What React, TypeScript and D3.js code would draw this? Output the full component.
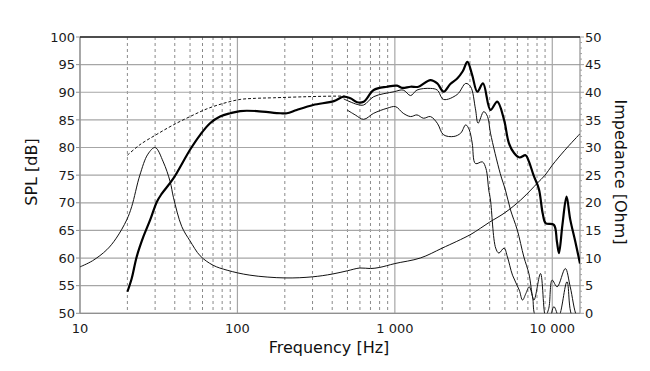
import React from 'react'
import * as d3 from 'd3'

// impedance curve (Ohm)
const impFreq = [10, 12, 14.8, 17, 19.8, 21.3, 24, 27, 30, 33.8, 37.4, 39.2, 44.3, 50, 58, 70, 86, 120, 200, 300, 400, 500, 600, 700, 800, 1000, 1450, 2000, 3000, 3500, 4000, 5000, 6300, 7300, 8000, 9000, 10000, 12000, 15000]
const impOhm = [8.4, 9.5, 11.5, 13.6, 16.9, 19.3, 25, 28.8, 30, 27.4, 23.8, 21, 15.7, 13.1, 10.4, 8.7, 7.8, 6.9, 6.4, 6.6, 7.1, 7.7, 8.2, 8.1, 8.3, 9.0, 10.0, 11.8, 14.2, 15.4, 16.5, 18.2, 20.5, 22.3, 23.5, 25, 26.8, 29.5, 32.5]

// on-axis SPL (bold)
const axisFreq = [20, 21.3, 22.9, 25.3, 27.9, 30.8, 33, 39.2, 50, 58, 67, 77.6, 90, 104, 133, 188, 206, 238, 303, 410, 473, 522, 576, 634, 734, 892, 1032, 1110, 1259, 1413, 1682, 1860, 2040, 2250, 2490, 2700, 2890, 3100, 3340, 3630, 4050, 4470, 4940, 5300, 5720, 6200, 6770, 7100, 7600, 8220, 8700, 9080, 10240, 10700, 11030, 11600, 12320, 13000, 14000, 15000]
const axisDb = [53.9, 56.3, 60.2, 63.9, 66.9, 70.2, 71.6, 74.4, 79.6, 82.3, 84.4, 85.6, 86.2, 86.6, 86.6, 86.2, 86.2, 86.8, 87.7, 88.4, 89.2, 88.9, 88.2, 88.3, 90.4, 91.0, 91.2, 90.8, 91.0, 91.0, 92.2, 91.6, 90.1, 91.5, 92.5, 93.8, 95.5, 93.1, 90.1, 91.6, 86.8, 88.3, 85, 80.8, 79, 78.2, 78.6, 77.5, 75, 72.5, 68, 66.3, 66, 63, 60.9, 66, 71.1, 67, 63, 59]

// off-axis 30 deg (thin, upper)
const off30Freq = [473, 576, 634, 734, 990, 1130, 1259, 1382, 1682, 1860, 2040, 2490, 2820, 3030, 3250, 3380, 3670, 3880, 4050, 4670, 5040, 5430, 5990, 6600, 7100, 7650, 8420, 9050, 9500, 9980, 10740, 12100, 13000, 14300, 15000]
const off30Db = [88.8, 87.8, 87.7, 89.2, 90.1, 90.4, 89.4, 90.4, 90.7, 90.4, 88.7, 89.6, 91.6, 91.0, 87, 84.4, 86.5, 85.6, 82.6, 75.3, 72.3, 68.7, 65.1, 60.2, 57.2, 52.4, 57.2, 49.5, 50.9, 56.0, 54.8, 58.1, 54.8, 49.5, 49]

// off-axis 60 deg (thin, lower)
const off60Freq = [497, 560, 634, 734, 892, 1010, 1130, 1259, 1382, 1520, 1682, 1860, 2040, 2370, 2620, 2820, 2970, 3100, 3250, 3600, 3790, 3950, 4050, 4370, 4580, 4940, 5190, 5590, 6170, 6470, 6800, 7130, 7490, 7860, 9500, 10240, 11000, 12400, 13400, 15000]
const off60Db = [86.8, 85.9, 85.1, 86.2, 87.1, 87.4, 86.2, 85.6, 85.9, 85.3, 85.6, 84.4, 82.3, 82.0, 82.6, 84.1, 83.2, 80.8, 77.1, 77.4, 76.2, 72.3, 70.5, 61.8, 60.9, 61.8, 60.2, 56.9, 54.2, 52.4, 53.6, 54.8, 53.0, 49.5, 49, 51.2, 49.5, 55.7, 49.5, 49]

// low-frequency extension (dashed)
const dashFreq = [20, 24, 30.8, 39.2, 50, 64, 81.7, 104, 130, 169, 277, 410, 480]
const dashDb = [78.6, 80.5, 82.4, 84.1, 85.6, 87.0, 88.0, 88.7, 88.9, 89.0, 89.2, 89.3, 89.3]

const splTicks = [50, 55, 60, 65, 70, 75, 80, 85, 90, 95, 100]
const impTicks = [0, 5, 10, 15, 20, 25, 30, 35, 40, 45, 50]
const freqTicks = [10, 100, 1000, 10000]
const freqLabels = ['10', '100', '1 000', '10 000']

const W = 650
const H = 371
const left = 80
const right = 580
const top = 37
const bottom = 313.3
const font = '"DejaVu Sans", Verdana, sans-serif'

export default function App() {
  const x = d3.scaleLog().domain([10, 15000]).range([left, right])
  const ySpl = d3.scaleLinear().domain([50, 100]).range([bottom, top])
  const yImp = d3.scaleLinear().domain([0, 50]).range([bottom, top])

  const minor: number[] = []
  freqTicks.forEach((d) => {
    for (let k = 2; k <= 9; k++) if (d * k <= 15000) minor.push(d * k)
  })
  const impMinor = d3.range(0, 51)

  const splLine = (fs: number[], vs: number[]) =>
    d3
      .line<number>()
      .x((_, i) => x(fs[i]))
      .y((v) => ySpl(v))
      .curve(d3.curveCatmullRom.alpha(0.5))(vs) || ''

  const impPath =
    d3
      .line<number>()
      .x((_, i) => x(impFreq[i]))
      .y((v) => yImp(v))
      .curve(d3.curveCatmullRom.alpha(0.5))(impOhm) || ''

  return (
    <div style={{ position: 'fixed', left: 0, top: 0, background: '#fff' }}>
      <svg width={W} height={H} style={{ display: 'block', fontFamily: font }}>
        <defs>
          <clipPath id="plot">
            <rect x={left} y={top} width={right - left} height={bottom - top} />
          </clipPath>
        </defs>
        <rect width={W} height={H} fill="#fff" />

        {/* grid */}
        {minor.map((d) => (
          <line key={'m' + d} x1={x(d)} x2={x(d)} y1={top} y2={bottom} stroke="#8a8a8a" strokeDasharray="3,3" strokeWidth={1} />
        ))}
        {splTicks.map((d) => (
          <line key={'h' + d} x1={left} x2={right} y1={ySpl(d)} y2={ySpl(d)} stroke="#a6a6a6" strokeWidth={1.2} />
        ))}
        {freqTicks.map((d) => (
          <line key={'v' + d} x1={x(d)} x2={x(d)} y1={top} y2={bottom} stroke="#a6a6a6" strokeWidth={1.2} />
        ))}

        {/* axes */}
        <line x1={left} x2={left} y1={top} y2={bottom} stroke="#909090" strokeWidth={1.2} />
        <line x1={right} x2={right} y1={top} y2={bottom} stroke="#909090" strokeWidth={1.2} />
        <line x1={left} x2={right} y1={bottom} y2={bottom} stroke="#909090" strokeWidth={1.2} />
        <line x1={left} x2={right} y1={top} y2={top} stroke="#222" strokeWidth={1.4} />
        {splTicks.map((d) => (
          <line key={'lt' + d} x1={left - 4} x2={left} y1={ySpl(d)} y2={ySpl(d)} stroke="#909090" />
        ))}
        {impMinor.map((d) => (
          <line key={'rt' + d} x1={right} x2={right + (d % 5 === 0 ? 4 : 2)} y1={yImp(d)} y2={yImp(d)} stroke="#a0a0a0" />
        ))}

        {/* curves */}
        <g clipPath="url(#plot)" fill="none" strokeLinejoin="round">
          <path d={impPath} stroke="#111" strokeWidth={1} />
          <path d={splLine(dashFreq, dashDb)} stroke="#111" strokeWidth={1} strokeDasharray="3,2" />
          <path d={splLine(off60Freq, off60Db)} stroke="#111" strokeWidth={1} />
          <path d={splLine(off30Freq, off30Db)} stroke="#111" strokeWidth={1} />
          <path d={splLine(axisFreq, axisDb)} stroke="#000" strokeWidth={2.2} />
        </g>

        {/* labels */}
        <g fontSize={13} fill="#1a1a1a">
          {splTicks.map((d) => (
            <text key={'ls' + d} x={left - 5} y={ySpl(d)} dy="0.36em" textAnchor="end">
              {d}
            </text>
          ))}
          {impTicks.map((d) => (
            <text key={'li' + d} x={right + 5} y={yImp(d)} dy="0.36em">
              {d}
            </text>
          ))}
          {freqTicks.map((d, i) => (
            <text key={'lf' + d} x={x(d)} y={332.5} textAnchor="middle">
              {freqLabels[i]}
            </text>
          ))}
        </g>
        <g fontSize={16} fill="#111">
          <text x={329} y={353} textAnchor="middle">
            Frequency [Hz]
          </text>
          <text transform="translate(37,172) rotate(-90)" textAnchor="middle">
            SPL [dB]
          </text>
          <text transform="translate(615,172) rotate(90)" textAnchor="middle">
            Impedance [Ohm]
          </text>
        </g>
      </svg>
    </div>
  )
}
